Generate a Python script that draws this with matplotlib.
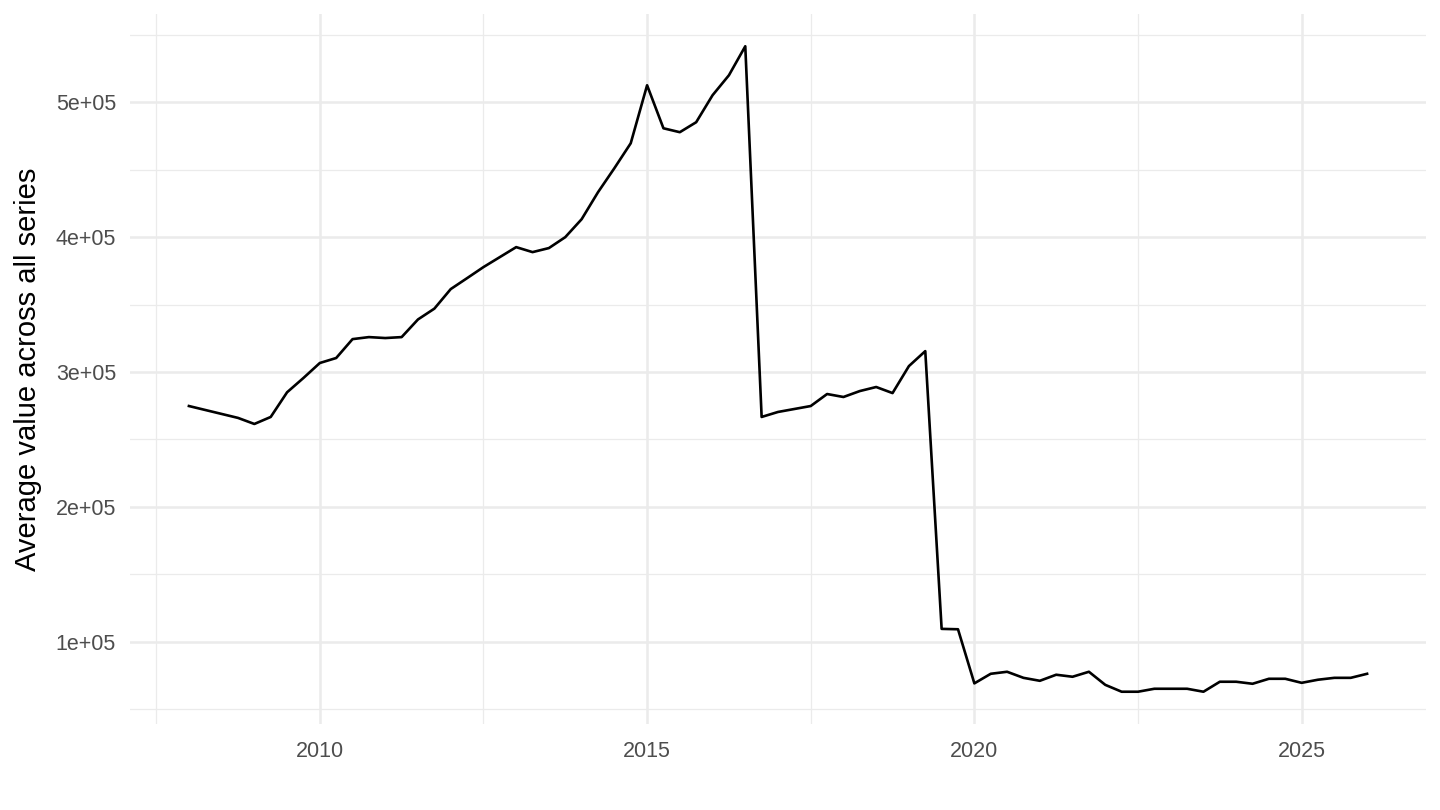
import matplotlib
matplotlib.use('Agg')
import matplotlib.pyplot as plt
from matplotlib.ticker import FixedLocator, FuncFormatter

plt.rcParams['font.family'] = ['Liberation Sans', 'DejaVu Sans']

# quarterly dates (decimal years) and the averaged values
dates = [2008.0, 2008.75, 2009.0, 2009.25, 2009.5, 2009.75,
         2010.0, 2010.25, 2010.5, 2010.75, 2011.0, 2011.25, 2011.5, 2011.75,
         2012.0, 2012.25, 2012.5, 2012.75, 2013.0, 2013.25, 2013.5, 2013.75,
         2014.0, 2014.25, 2014.5, 2014.75, 2015.0, 2015.25, 2015.5, 2015.75,
         2016.0, 2016.25, 2016.5, 2016.75, 2017.0, 2017.25, 2017.5, 2017.75,
         2018.0, 2018.25, 2018.5, 2018.75, 2019.0, 2019.25, 2019.5, 2019.75,
         2020.0, 2020.25, 2020.5, 2020.75, 2021.0, 2021.25, 2021.5, 2021.75,
         2022.0, 2022.25, 2022.5, 2022.75, 2023.0, 2023.25, 2023.5, 2023.75,
         2024.0, 2024.25, 2024.5, 2024.75, 2025.0, 2025.25, 2025.5, 2025.75,
         2026.0]
values = [274800, 266000, 261500, 266700, 285000, 295600,
          306700, 310400, 324400, 325900, 325200, 325900, 339000, 347000,
          361500, 369600, 377800, 385200, 392600, 388900, 391900, 400000,
          413300, 433300, 451100, 469600, 512600, 480700, 477800, 485200,
          505200, 520000, 541500, 266700, 270400, 272600, 274800, 283700,
          281500, 285900, 288900, 284400, 304400, 315500, 109600, 109300,
          69200, 76300, 77800, 73300, 71100, 75600, 74100, 77800,
          68100, 63000, 63000, 65200, 65200, 65200, 63000, 70400,
          70400, 68900, 72600, 72600, 69600, 71900, 73300, 73300,
          76300]

x_major = [2010, 2015, 2020, 2025]
x_minor = [2007.5, 2012.5, 2017.5, 2022.5]
y_major = [100000, 200000, 300000, 400000, 500000]
y_minor = [50000, 150000, 250000, 350000, 450000, 550000]

fig = plt.figure(figsize=(14.4, 8.1), dpi=100)
ax = fig.add_axes([130 / 1440, 86 / 810, 1296 / 1440, 710 / 810])

ax.plot(dates, values, color='black', lw=1.9, zorder=3)

# ggplot-like expansion of 5 %
span_x = max(dates) - min(dates)
ax.set_xlim(min(dates) - 0.05 * span_x, max(dates) + 0.05 * span_x)
span_y = max(values) - min(values)
ax.set_ylim(min(values) - 0.05 * span_y, max(values) + 0.05 * span_y)

ax.xaxis.set_major_locator(FixedLocator(x_major))
ax.xaxis.set_minor_locator(FixedLocator(x_minor))
ax.yaxis.set_major_locator(FixedLocator(y_major))
ax.yaxis.set_minor_locator(FixedLocator(y_minor))
ax.yaxis.set_major_formatter(FuncFormatter(lambda v, p: '%de+05' % round(v / 1e5)))

ax.grid(which='major', color='#EBEBEB', lw=1.8)
ax.grid(which='minor', color='#EBEBEB', lw=0.9)
ax.set_axisbelow(True)
for s in ax.spines.values():
    s.set_visible(False)

ax.tick_params(which='both', length=0)
ax.tick_params(axis='x', labelsize=15.5, labelcolor='#4D4D4D', pad=12)
ax.tick_params(axis='y', labelsize=15.5, labelcolor='#4D4D4D', pad=10)

ax.set_ylabel('Average value across all series', fontsize=21, labelpad=10)

fig.savefig('out.png', dpi=100, facecolor='white')
